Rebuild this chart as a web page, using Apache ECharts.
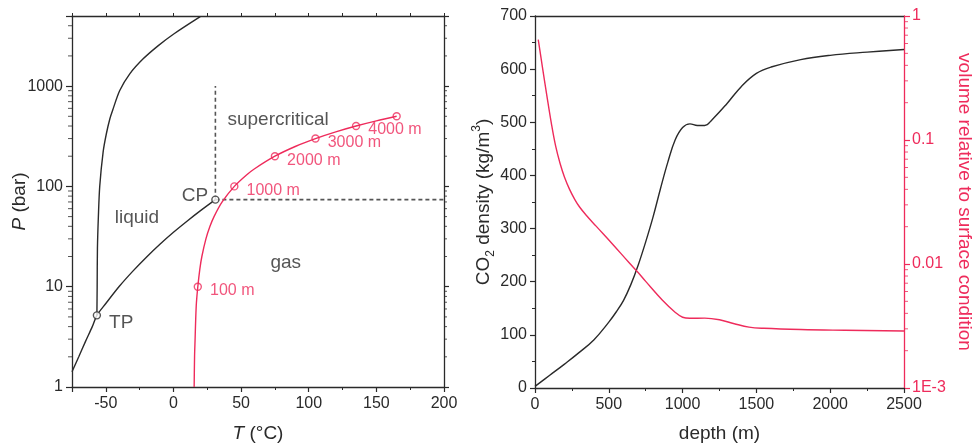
<!DOCTYPE html>
<html>
<head>
<meta charset="utf-8">
<title>CO2 phase diagram and density with depth</title>
<script src="https://cdn.jsdelivr.net/npm/echarts@6/dist/echarts.min.js"></script>
<style>
    html, body { margin: 0; padding: 0; background: #fff; }
    #main { width: 975px; height: 448px; }
</style>
</head>
<body>
<div id="main"></div>
<script>
// ---------- left panel: phase diagram, T (°C) vs P (bar) ----------
// solid / liquid boundary (melting curve)
var meltT = [-56.6, -56.4, -56.2, -55.5, -54.5, -52, -49.6, -47, -45, -39.7, -32.3, -22.4, -11.2, 0.2, 19.8];
var meltP = [5.18, 10, 24, 50, 100, 220, 335, 473, 572, 904, 1326, 1871, 2535, 3311, 4930];

// sublimation + vapour pressure curve up to the critical point
var boilT = [-75, -70, -65, -60, -56.6, -50, -40, -30, -20, -10, 0, 10, 20, 31];
var boilP = [1.42, 2.0, 2.85, 4.0, 5.18, 6.8, 10.1, 14.3, 19.7, 26.5, 34.9, 45.0, 57.3, 73.8];

// pressure / temperature path with depth
var pathT = [15.3, 15.6, 16, 16.5, 17, 18, 19.5, 21, 24, 27, 30, 36, 45, 54, 60, 75, 90, 105, 120, 135, 150, 165];
var pathP = [1, 2, 3, 5, 7, 10, 15, 20, 30, 40, 50, 70, 100, 130, 150, 200, 250, 300, 350, 400, 450, 500];

// depth markers on that path
var depthT = [18, 45, 75, 105, 135, 165];
var depthP = [10, 100, 200, 300, 400, 500];
var depthLabel = ['100 m', '1000 m', '2000 m', '3000 m', '4000 m', ''];

// triple point and critical point
var pointT = [-56.6, 31];
var pointP = [5.18, 73.8];
var pointLabel = ['TP', 'CP'];

// region names
var regionT = [77.4, -27, 83];
var regionP = [466, 49.2, 17.5];
var regionName = ['supercritical', 'liquid', 'gas'];

// log minor ticks
var minorP = [2, 3, 4, 5, 6, 7, 8, 9, 20, 30, 40, 50, 60, 70, 80, 90, 200, 300, 400, 500, 600, 700, 800, 900, 2000, 3000, 4000];

// ---------- right panel: CO2 density and volume vs depth ----------
var densDepth = [0, 100, 200, 300, 400, 500, 550, 600, 650, 700, 750, 800, 850, 900, 950, 1000, 1050, 1100, 1150, 1200, 1300, 1400, 1500, 1600, 1800, 2000, 2250, 2500];
var density = [3, 24, 45, 67, 91, 124, 143, 165, 195, 232, 275, 322, 375, 425, 467, 490, 497, 494, 494, 505, 535, 568, 592, 604, 618, 626, 632, 637];

var volDepth = [22, 50, 80, 110, 140, 170, 200, 235, 270, 302, 350, 414, 526, 638, 700, 750, 862, 951, 1000, 1050, 1150, 1250, 1350, 1450, 1550, 1800, 2100, 2500];
var volume = [0.646, 0.389, 0.229, 0.138, 0.0891, 0.0646, 0.0501, 0.0398, 0.0331, 0.0288, 0.0245, 0.0202, 0.01445, 0.01023, 0.00851, 0.00724, 0.00513, 0.00407, 0.00372, 0.00365, 0.00366, 0.00355, 0.0033, 0.0031, 0.00303, 0.00296, 0.00292, 0.00288];

var minorV = [0.002, 0.003, 0.004, 0.005, 0.006, 0.007, 0.008, 0.009, 0.02, 0.03, 0.04, 0.05, 0.06, 0.07, 0.08, 0.09, 0.2, 0.3, 0.4, 0.5, 0.6, 0.7, 0.8, 0.9];


var FONT = '"Liberation Sans", Arial, Helvetica, sans-serif';
var INK = '#2a2a2a';
var RED = '#ee2b5b';

function zip(a, b) {
    var out = [];
    for (var i = 0; i < a.length; i++) {
        out.push([a[i], b[i]]);
    }
    return out;
}

function atX(x, ys) {
    return ys.map(function (y) { return [x, y]; });
}

// only powers of ten get a label on log axes
function isDecade(v) {
    var e = Math.log(v) / Math.LN10;
    return Math.abs(e - Math.round(e)) < 1e-6;
}

var tickLabel = { fontFamily: FONT, fontSize: 16, color: INK };
var axisLine = { onZero: false, lineStyle: { color: INK, width: 1.3 } };

var myChart = echarts.init(document.getElementById('main'));

var option = {
    animation: false,
    backgroundColor: '#fff',
    grid: [
        { left: 72, top: 16, width: 372, height: 373 },
        { left: 535, top: 16, width: 372, height: 373 }
    ],
    xAxis: [{
            // T axis, labels every 50
            gridIndex: 0,
            type: 'value',
            position: 'bottom',
            min: -75,
            max: 200,
            splitNumber: 5,
            splitLine: { show: false },
            axisLine: axisLine,
            axisTick: { length: 5, lineStyle: { color: INK, width: 1.2 } },
            axisLabel: Object.assign({
                margin: 9,
                formatter: function (v) { return v % 50 === 0 ? String(v) : ''; }
            }, tickLabel),
            name: '{i|T} (°C)',
            nameLocation: 'middle',
            nameGap: 37,
            nameTextStyle: {
                fontFamily: FONT, fontSize: 19, color: INK,
                rich: { i: { fontFamily: FONT, fontSize: 19, color: INK, fontStyle: 'italic' } }
            }
        },
        {
            // minor ticks every 25
            gridIndex: 0,
            type: 'value',
            position: 'bottom',
            min: -75,
            max: 200,
            interval: 25,
            splitLine: { show: false },
            axisLine: { show: false, onZero: false },
            axisTick: { length: 3, lineStyle: { color: INK, width: 1 } },
            axisLabel: { show: false }
        },
        {
            // top frame
            gridIndex: 0,
            type: 'value',
            position: 'top',
            min: -75,
            max: 200,
            interval: 25,
            splitLine: { show: false },
            axisLine: axisLine,
            axisTick: { length: 3, lineStyle: { color: INK, width: 1 } },
            axisLabel: { show: false }
        },
        {
            // depth axis
            gridIndex: 1,
            type: 'value',
            position: 'bottom',
            min: 0,
            max: 2500,
            interval: 500,
            splitLine: { show: false },
            axisLine: axisLine,
            axisTick: { length: 5, lineStyle: { color: INK, width: 1.2 } },
            minorTick: { show: true, splitNumber: 2, length: 3, lineStyle: { color: INK, width: 1 } },
            axisLabel: Object.assign({
                margin: 9,
                formatter: function (v) { return String(v); }
            }, tickLabel),
            name: 'depth (m)',
            nameLocation: 'middle',
            nameGap: 36,
            nameTextStyle: { fontFamily: FONT, fontSize: 19, color: INK }
        },
        {
            // top frame of right panel
            gridIndex: 1,
            type: 'value',
            position: 'top',
            min: 0,
            max: 2500,
            interval: 500,
            splitLine: { show: false },
            axisLine: axisLine,
            axisTick: { show: false },
            axisLabel: { show: false }
        }
    ],
    yAxis: [{
            // P axis
            gridIndex: 0,
            type: 'log',
            position: 'left',
            min: 1,
            max: 5000,
            splitLine: { show: false },
            axisLine: axisLine,
            axisTick: { length: 6, lineStyle: { color: INK, width: 1.2 } },
            axisLabel: Object.assign({
                margin: 9,
                formatter: function (v) { return isDecade(v) ? String(Math.round(v)) : ''; }
            }, tickLabel),
            name: '{i|P} (bar)',
            nameLocation: 'middle',
            nameGap: 43,
            nameMoveOverlap: false,
            nameTextStyle: {
                fontFamily: FONT, fontSize: 19, color: INK,
                rich: { i: { fontFamily: FONT, fontSize: 19, color: INK, fontStyle: 'italic' } }
            }
        },
        {
            // right frame of left panel
            gridIndex: 0,
            type: 'log',
            position: 'right',
            min: 1,
            max: 5000,
            splitLine: { show: false },
            axisLine: axisLine,
            axisTick: { length: 5, lineStyle: { color: INK, width: 1.2 } },
            axisLabel: { show: false }
        },
        {
            // density
            gridIndex: 1,
            type: 'value',
            position: 'left',
            min: 0,
            max: 700,
            interval: 100,
            splitLine: { show: false },
            axisLine: axisLine,
            axisTick: { length: 5, lineStyle: { color: INK, width: 1.2 } },
            minorTick: { show: true, splitNumber: 2, length: 3, lineStyle: { color: INK, width: 1 } },
            axisLabel: Object.assign({ margin: 8 }, tickLabel),
            name: 'CO{sub|2} density (kg/m{sup|3})',
            nameLocation: 'middle',
            nameGap: 36,
            nameTextStyle: {
                fontFamily: FONT, fontSize: 19, color: INK,
                rich: {
                    sub: { fontFamily: FONT, fontSize: 12, color: INK, verticalAlign: 'bottom', lineHeight: 26 },
                    sup: { fontFamily: FONT, fontSize: 12, color: INK, verticalAlign: 'top', lineHeight: 26 }
                }
            }
        },
        {
            // relative volume
            gridIndex: 1,
            type: 'log',
            position: 'right',
            min: 0.001,
            max: 1,
            splitLine: { show: false },
            axisLine: { onZero: false, lineStyle: { color: RED, width: 1.3 } },
            axisTick: { length: 6, lineStyle: { color: RED, width: 1.2 } },
            axisLabel: {
                margin: 8,
                fontFamily: FONT,
                fontSize: 16,
                color: RED,
                formatter: function (v) {
                    if (Math.abs(v - 0.001) < 1e-9) return '1E-3';
                    if (Math.abs(v - 0.01) < 1e-9) return '0.01';
                    if (Math.abs(v - 0.1) < 1e-9) return '0.1';
                    if (Math.abs(v - 1) < 1e-9) return '1';
                    return '';
                }
            },
            name: 'volume relative to surface condition',
            nameLocation: 'middle',
            nameRotate: -90,
            nameGap: 51,
            nameTextStyle: { fontFamily: FONT, fontSize: 19, color: RED }
        }
    ],
    series: [{
            name: 'melting',
            type: 'line',
            xAxisIndex: 0,
            yAxisIndex: 0,
            data: zip(meltT, meltP),
            smooth: 0.3,
            showSymbol: false,
            silent: true,
            lineStyle: { color: INK, width: 1.4 }
        },
        {
            name: 'vapour',
            type: 'line',
            xAxisIndex: 0,
            yAxisIndex: 0,
            data: zip(boilT, boilP),
            smooth: 0.3,
            showSymbol: false,
            silent: true,
            lineStyle: { color: INK, width: 1.4 }
        },
        {
            name: 'critical T',
            type: 'line',
            xAxisIndex: 0,
            yAxisIndex: 0,
            data: [[pointT[1], pointP[1]], [pointT[1], 1000]],
            showSymbol: false,
            silent: true,
            lineStyle: { color: '#555', width: 1.6, type: [4, 3] }
        },
        {
            name: 'critical P',
            type: 'line',
            xAxisIndex: 0,
            yAxisIndex: 0,
            data: [[pointT[1], pointP[1]], [200, pointP[1]]],
            showSymbol: false,
            silent: true,
            lineStyle: { color: '#555', width: 1.6, type: [4, 3] }
        },
        {
            name: 'path',
            type: 'line',
            xAxisIndex: 0,
            yAxisIndex: 0,
            data: zip(pathT, pathP),
            smooth: 0.3,
            showSymbol: false,
            silent: true,
            lineStyle: { color: RED, width: 1.4 }
        },
        {
            name: 'depth marks',
            type: 'scatter',
            xAxisIndex: 0,
            yAxisIndex: 0,
            data: zip(depthT, depthP),
            symbol: 'circle',
            symbolSize: 7,
            clip: false,
            silent: true,
            itemStyle: { color: '#fff', borderColor: RED, borderWidth: 1.4 },
            label: {
                show: true,
                position: 'right',
                distance: 8,
                offset: [0, 4],
                fontFamily: FONT,
                fontSize: 16,
                color: RED,
                formatter: function (p) { return depthLabel[p.dataIndex]; }
            }
        },
        {
            name: 'TP CP',
            type: 'scatter',
            xAxisIndex: 0,
            yAxisIndex: 0,
            data: [{
                    value: [pointT[0], pointP[0]],
                    label: { position: 'right', distance: 8, offset: [0, 7] }
                },
                {
                    value: [pointT[1], pointP[1]],
                    label: { position: 'left', distance: 3, offset: [0, -4] }
                }
            ],
            symbol: 'circle',
            symbolSize: 7,
            clip: false,
            silent: true,
            z: 3,
            itemStyle: { color: '#fff', borderColor: INK, borderWidth: 1.4 },
            label: {
                show: true,
                fontFamily: FONT,
                fontSize: 19,
                color: INK,
                formatter: function (p) { return pointLabel[p.dataIndex]; }
            }
        },
        {
            name: 'regions',
            type: 'scatter',
            xAxisIndex: 0,
            yAxisIndex: 0,
            data: zip(regionT, regionP),
            symbolSize: 0,
            silent: true,
            label: {
                show: true,
                position: 'inside',
                fontFamily: FONT,
                fontSize: 19,
                color: INK,
                formatter: function (p) { return regionName[p.dataIndex]; }
            }
        },
        {
            // minor log ticks, left side
            type: 'scatter',
            xAxisIndex: 0,
            yAxisIndex: 0,
            data: atX(-75, minorP),
            symbol: 'rect',
            symbolSize: [4, 1],
            symbolOffset: [-2, 0],
            clip: false,
            silent: true,
            itemStyle: { color: INK }
        },
        {
            // minor log ticks, right frame
            type: 'scatter',
            xAxisIndex: 0,
            yAxisIndex: 0,
            data: atX(200, minorP),
            symbol: 'rect',
            symbolSize: [3, 1],
            symbolOffset: [1.5, 0],
            clip: false,
            silent: true,
            itemStyle: { color: INK }
        },
        {
            name: 'density',
            type: 'line',
            xAxisIndex: 3,
            yAxisIndex: 2,
            data: zip(densDepth, density),
            smooth: 0.4,
            showSymbol: false,
            silent: true,
            lineStyle: { color: INK, width: 1.4 }
        },
        {
            name: 'volume',
            type: 'line',
            xAxisIndex: 3,
            yAxisIndex: 3,
            data: zip(volDepth, volume),
            smooth: 0.4,
            showSymbol: false,
            silent: true,
            lineStyle: { color: RED, width: 1.4 }
        },
        {
            // minor log ticks on the red axis
            type: 'scatter',
            xAxisIndex: 3,
            yAxisIndex: 3,
            data: atX(2500, minorV),
            symbol: 'rect',
            symbolSize: [4, 1],
            symbolOffset: [2, 0],
            clip: false,
            silent: true,
            itemStyle: { color: RED }
        }
    ]
};

myChart.setOption(option);
</script>
</body>
</html>
